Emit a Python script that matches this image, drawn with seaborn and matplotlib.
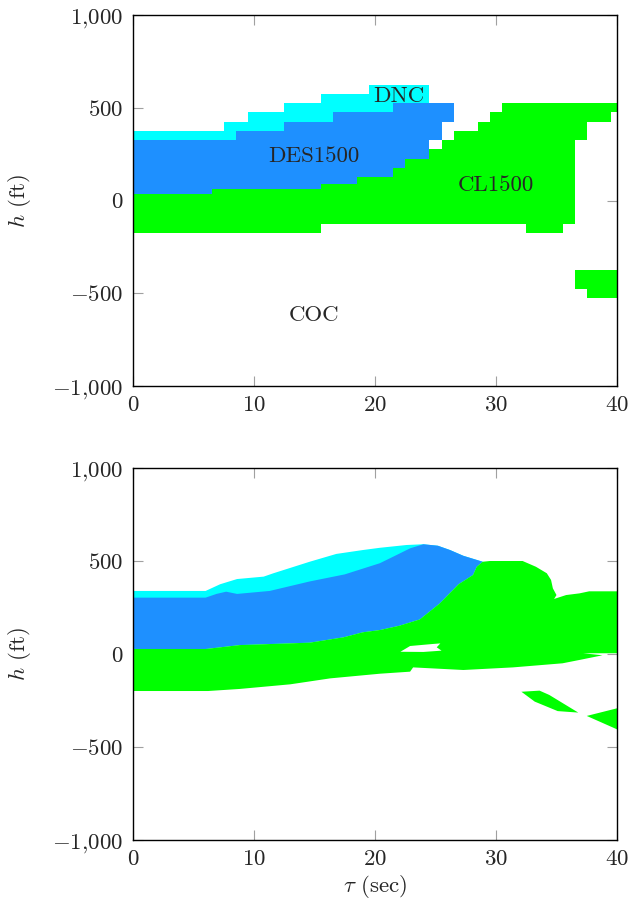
import matplotlib
matplotlib.use("Agg")
import matplotlib.pyplot as plt
from matplotlib.ticker import FuncFormatter
import numpy as np
import seaborn as sns

# ---- colours of the advisories
COLOR_CYAN = "#00FFFF"   # DNC
COLOR_BLUE = "#1E90FF"   # DES1500
COLOR_GREEN = "#00FF00"  # CL1500

# ---- top panel: table policy, one column per second of tau (cell centres)
TAU_CELLS = [0, 1, 2, 3, 4, 5, 6, 7, 8, 9, 10, 11, 12, 13, 14, 15, 16, 17, 18, 19, 20,
             21, 22, 23, 24, 25, 26, 27, 28, 29, 30, 31, 32, 33, 34, 35, 36, 37, 38, 39, 40]
GREEN_LO = [-175, -175, -175, -175, -175, -175, -175, -175, -175, -175, -175, -175, -175, -175,
            -175, -175, -125, -125, -125, -125, -125, -125, -125, -125, -125, -125, -125, -125,
            -125, -125, -125, -125, -125, -175, -175, -175, -125, 325, 425, 425, 475]
GREEN_HI = [37, 37, 37, 37, 37, 37, 37, 62, 62, 62, 62, 62, 62, 62, 62, 62, 88, 88, 88, 125,
            125, 125, 175, 225, 225, 275, 325, 375, 375, 425, 475, 525, 525, 525, 525, 525,
            525, 525, 525, 525, 525]
BLUE_LO = [37, 37, 37, 37, 37, 37, 37, 62, 62, 62, 62, 62, 62, 62, 62, 62, 88, 88, 88, 125,
           125, 125, 175, 225, 225, 325, 425, np.nan, np.nan, np.nan, np.nan, np.nan, np.nan,
           np.nan, np.nan, np.nan, np.nan, np.nan, np.nan, np.nan, np.nan]
BLUE_HI = [325, 325, 325, 325, 325, 325, 325, 325, 325, 375, 375, 375, 375, 425, 425, 425,
           425, 475, 475, 475, 475, 475, 525, 525, 525, 525, 525, np.nan, np.nan, np.nan,
           np.nan, np.nan, np.nan, np.nan, np.nan, np.nan, np.nan, np.nan, np.nan, np.nan, np.nan]
CYAN_HI = [375, 375, 375, 375, 375, 375, 375, 375, 425, 425, 475, 475, 475, 525, 525, 525,
           575, 575, 575, 575, 625, 625, 625, 625, 625, np.nan, np.nan, np.nan, np.nan, np.nan,
           np.nan, np.nan, np.nan, np.nan, np.nan, np.nan, np.nan, np.nan, np.nan, np.nan, np.nan]
# separate CL1500 patch at the lower right
TAU_PATCH_CELLS = [37, 38, 39, 40]
PATCH_LO = [-475, -525, -525, -525]
PATCH_HI = [-375, -375, -375, -375]

# region labels (tau, h baseline)
LABELS = ["DNC", "DES1500", "CL1500", "COC"]
LABEL_TAU = [22.0, 14.95, 30.0, 15.0]
LABEL_H = [533, 207, 52, -650]

# ---- bottom panel: network policy, region outlines
CYAN_TOP_TAU = [0, 6.0, 7.2, 8.6, 10.8, 11.6, 14.6, 16.8, 19.0, 20.4, 22.6, 24.0]
CYAN_TOP_H = [339, 339, 375, 403, 416, 434, 496, 538, 559, 571, 586, 590]
BLUE_TOP_TAU = [0, 6.0, 6.9, 7.7, 8.6, 11.3, 14.6, 17.5, 20.4, 21.5, 22.9, 24.0,
                25.2, 26.2, 27.3, 28.9]
BLUE_TOP_H = [303, 303, 323, 335, 323, 339, 390, 428, 488, 523, 568, 590,
              582, 559, 528, 496]
GREEN_TOP_TAU = [0, 6.0, 8.8, 14.6, 17.4, 19.0, 20.4, 22.0, 23.7, 25.35, 26.9, 28.1, 28.4,
                 28.9, 29.5, 32.2, 33.3, 34.2, 34.55, 34.7, 35.0, 34.8, 35.8, 36.9, 37.7, 40]
GREEN_TOP_H = [27, 27, 48, 61, 90, 117, 129, 152, 186, 272, 375, 425, 469,
               496, 500, 500, 469, 434, 398, 353, 317, 296, 317, 326, 337, 337]
GREEN_BOT_TAU = [40, 37.2, 38.8, 36.9, 35.5, 31.4, 27.3, 23.15, 22.9, 20.4, 16.3, 13.0,
                 8.8, 6.2, 0]
GREEN_BOT_H = [4, 4, -7, -32, -50, -72, -86, -72, -95, -106, -131, -163, -188, -199, -199]
HOLE_TAU = [22.1, 22.9, 24.8, 25.4, 25.1, 25.5, 24.0]
HOLE_H = [12, 43, 54, 57, 36, 18, 11]
PATCH1_TAU = [32.1, 33.6, 34.4, 36.8, 35.1, 33.2]
PATCH1_H = [-203, -197, -220, -315, -307, -256]
PATCH2_TAU = [37.5, 40, 40]
PATCH2_H = [-333, -292, -405]

H_TICKS = [-1000, -500, 0, 500, 1000]
TAU_TICKS = [0, 10, 20, 30, 40]

sns.set_style("ticks")
plt.rcParams["font.family"] = ["cmr10", "DejaVu Serif"]
plt.rcParams["mathtext.fontset"] = "cm"
plt.rcParams["axes.formatter.use_mathtext"] = True
FS = 16.5


def h_label(v, pos):
    s = f"{abs(v):,.0f}".replace(",", "{,}")
    return f"$-{s}$" if v < 0 else f"${s}$"


def style_axes(ax):
    ax.set_xlim(0, 40)
    ax.set_ylim(-1000, 1000)
    ax.set_xticks(TAU_TICKS)
    ax.set_yticks(H_TICKS)
    ax.xaxis.set_major_formatter(FuncFormatter(lambda v, p: f"${v:.0f}$"))
    ax.yaxis.set_major_formatter(FuncFormatter(h_label))
    ax.tick_params(direction="in", length=7.5, width=0.8, color="#a0a0a0",
                   top=True, right=True, labelsize=FS, pad=7)
    for sp in ax.spines.values():
        sp.set_visible(True)
        sp.set_linewidth(1.0)
        sp.set_color("black")
        sp.set_zorder(5)
    ax.set_ylabel(r"$h$ (ft)", fontsize=FS, labelpad=14)


def cell_bars(ax, tau, lo, hi, color):
    lo = np.asarray(lo, dtype=float)
    hi = np.asarray(hi, dtype=float)
    keep = ~np.isnan(lo) & ~np.isnan(hi)
    ax.bar(np.asarray(tau)[keep], (hi - lo)[keep], bottom=lo[keep], width=1.0,
           color=color, linewidth=0, antialiased=False, align="center", zorder=1)


fig = plt.figure(figsize=(6.29, 9.09), dpi=100)
ax_top = fig.add_axes([133 / 629, 1 - 386 / 909, 484 / 629, 371 / 909])
ax_bot = fig.add_axes([133 / 629, 1 - 840 / 909, 484 / 629, 372 / 909])

# top panel: grid cells as stacked bars
cell_bars(ax_top, TAU_CELLS, GREEN_LO, GREEN_HI, COLOR_GREEN)
cell_bars(ax_top, TAU_PATCH_CELLS, PATCH_LO, PATCH_HI, COLOR_GREEN)
cell_bars(ax_top, TAU_CELLS, BLUE_LO, BLUE_HI, COLOR_BLUE)
cell_bars(ax_top, TAU_CELLS, BLUE_HI, CYAN_HI, COLOR_CYAN)
for name, t, h in zip(LABELS, LABEL_TAU, LABEL_H):
    ax_top.text(t, h, name, ha="center", va="baseline", fontsize=FS, zorder=4)
style_axes(ax_top)

# bottom panel: smooth regions as filled outlines
blue_bottom_tau = [t for t in GREEN_TOP_TAU if t <= 28.9]
blue_bottom_h = GREEN_TOP_H[:len(blue_bottom_tau)]
cyan_tau = CYAN_TOP_TAU + [t for t in BLUE_TOP_TAU if t > 24.0] + blue_bottom_tau[::-1]
cyan_h = CYAN_TOP_H + [h for t, h in zip(BLUE_TOP_TAU, BLUE_TOP_H) if t > 24.0] + blue_bottom_h[::-1]
ax_bot.fill(cyan_tau, cyan_h, color=COLOR_CYAN, lw=0, zorder=1)
ax_bot.fill(BLUE_TOP_TAU + blue_bottom_tau[::-1], BLUE_TOP_H + blue_bottom_h[::-1],
            color=COLOR_BLUE, lw=0, zorder=2)
ax_bot.fill(GREEN_TOP_TAU + GREEN_BOT_TAU, GREEN_TOP_H + GREEN_BOT_H,
            color=COLOR_GREEN, lw=0, zorder=3)
ax_bot.fill(HOLE_TAU, HOLE_H, color="white", lw=0, zorder=3)
ax_bot.fill(PATCH1_TAU, PATCH1_H, color=COLOR_GREEN, lw=0, zorder=3)
ax_bot.fill(PATCH2_TAU, PATCH2_H, color=COLOR_GREEN, lw=0, zorder=3)
style_axes(ax_bot)
ax_bot.set_xlabel(r"$\tau$ (sec)", fontsize=FS, labelpad=3)

fig.savefig("out.png", dpi=100)
